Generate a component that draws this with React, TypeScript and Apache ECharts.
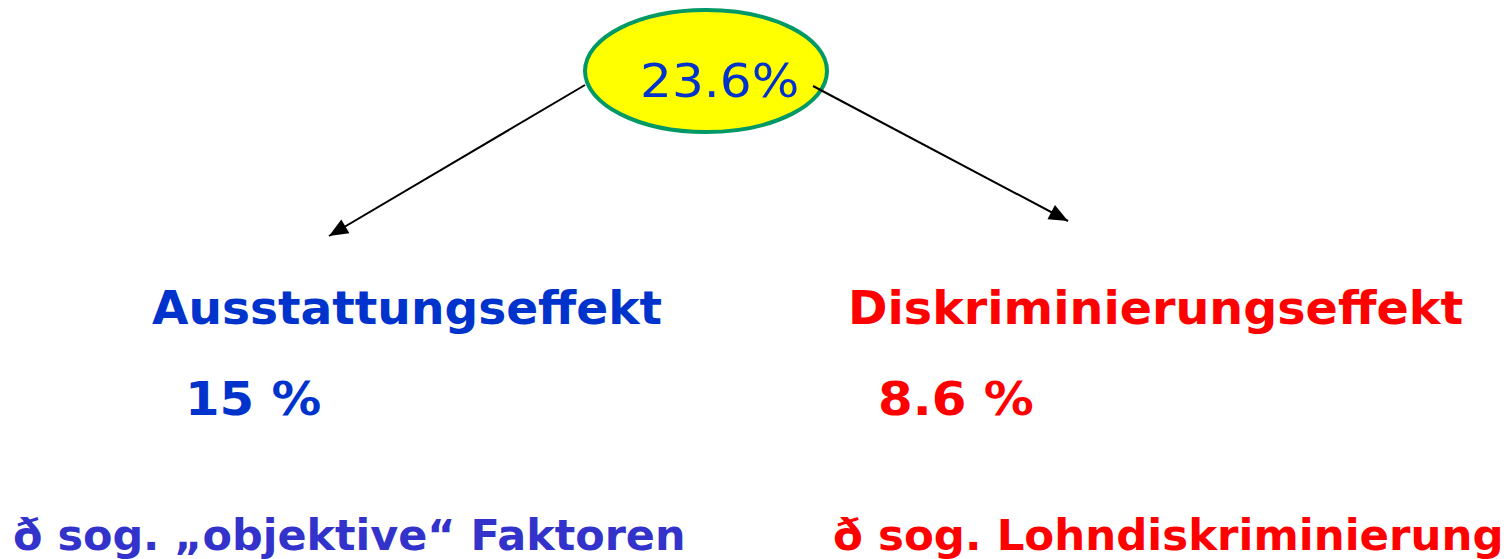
import React, { useEffect, useRef } from "react";
import * as echarts from "echarts";

// ---- data ----
const totalGap: number = 23.6;
const effectNames: string[] = ["Ausstattungseffekt", "Diskriminierungseffekt"];
const effectValues: number[] = [15, 8.6];
const effectNotes: string[] = ["ð sog. „objektive“ Faktoren", "ð sog. Lohndiskriminierung"];

// ---- styles / layout ----
const W = 1506;
const H = 559;
const headColors = ["#0033cc", "#ff0000"];
const noteColors = ["#3333cc", "#ff0000"];
const FONT = '"DejaVu Sans", Verdana, sans-serif';

const ellipse = { cx: 706, cy: 71, rx: 121, ry: 61 };
const arrowLines = [
  { x1: 585, y1: 85, x2: 329, y2: 236 },
  { x1: 813, y1: 86, x2: 1068, y2: 221 },
];
const headX = [152, 848];
const headScale = [1.024, 1.035];
const valueX = [185, 878];
const valueScale = [1.08, 1.085];
const noteX = [13, 833];
const noteScale = [0.998, 1.012];

function arrowHead(l: { x1: number; y1: number; x2: number; y2: number }) {
  const dx = l.x2 - l.x1;
  const dy = l.y2 - l.y1;
  const len = Math.sqrt(dx * dx + dy * dy);
  const ux = dx / len;
  const uy = dy / len;
  const hl = 19;
  const hw = 8;
  const bx = l.x2 - ux * hl;
  const by = l.y2 - uy * hl;
  return [
    [l.x2, l.y2],
    [bx - uy * hw, by + ux * hw],
    [bx + uy * hw, by - ux * hw],
  ];
}

function fmtPct(v: number, space: boolean) {
  return String(v) + (space ? " %" : "%");
}

export default function App() {
  const ref = useRef<HTMLDivElement>(null);
  useEffect(() => {
    document.body.style.margin = "0";
    if (!ref.current) return;
    const chart = echarts.init(ref.current, null, { renderer: "svg" });
    const elements: any[] = [];

    elements.push({
      type: "ellipse",
      shape: { cx: ellipse.cx, cy: ellipse.cy, rx: ellipse.rx, ry: ellipse.ry },
      style: { fill: "#ffff00", stroke: "#009966", lineWidth: 4 },
    });
    elements.push({
      type: "text",
      x: 640,
      y: 81,
      scaleX: 1.09,
      style: {
        text: fmtPct(totalGap, false),
        fill: "#0033cc",
        font: `46px ${FONT}`,
        align: "left",
        verticalAlign: "middle",
      },
    });
    arrowLines.forEach((l) => {
      elements.push({
        type: "line",
        shape: { x1: l.x1, y1: l.y1, x2: l.x2, y2: l.y2 },
        style: { stroke: "#000", lineWidth: 2 },
      });
      elements.push({
        type: "polygon",
        shape: { points: arrowHead(l) },
        style: { fill: "#000" },
      });
    });
    effectNames.forEach((name, i) => {
      elements.push({
        type: "text",
        x: headX[i],
        y: 308,
        scaleX: headScale[i],
        style: {
          text: name,
          fill: headColors[i],
          font: `bold 46px ${FONT}`,
          align: "left",
          verticalAlign: "middle",
        },
      });
      elements.push({
        type: "text",
        x: valueX[i],
        y: 399,
        scaleX: valueScale[i],
        style: {
          text: fmtPct(effectValues[i], true),
          fill: headColors[i],
          font: `bold 46px ${FONT}`,
          align: "left",
          verticalAlign: "middle",
        },
      });
      elements.push({
        type: "text",
        x: noteX[i],
        y: 535,
        scaleX: noteScale[i],
        style: {
          text: effectNotes[i],
          fill: noteColors[i],
          font: `bold 43px ${FONT}`,
          align: "left",
          verticalAlign: "middle",
        },
      });
    });

    chart.setOption({
      animation: false,
      backgroundColor: "#ffffff",
      graphic: { elements },
    });
    return () => chart.dispose();
  }, []);
  return <div ref={ref} style={{ width: W, height: H }} />;
}
